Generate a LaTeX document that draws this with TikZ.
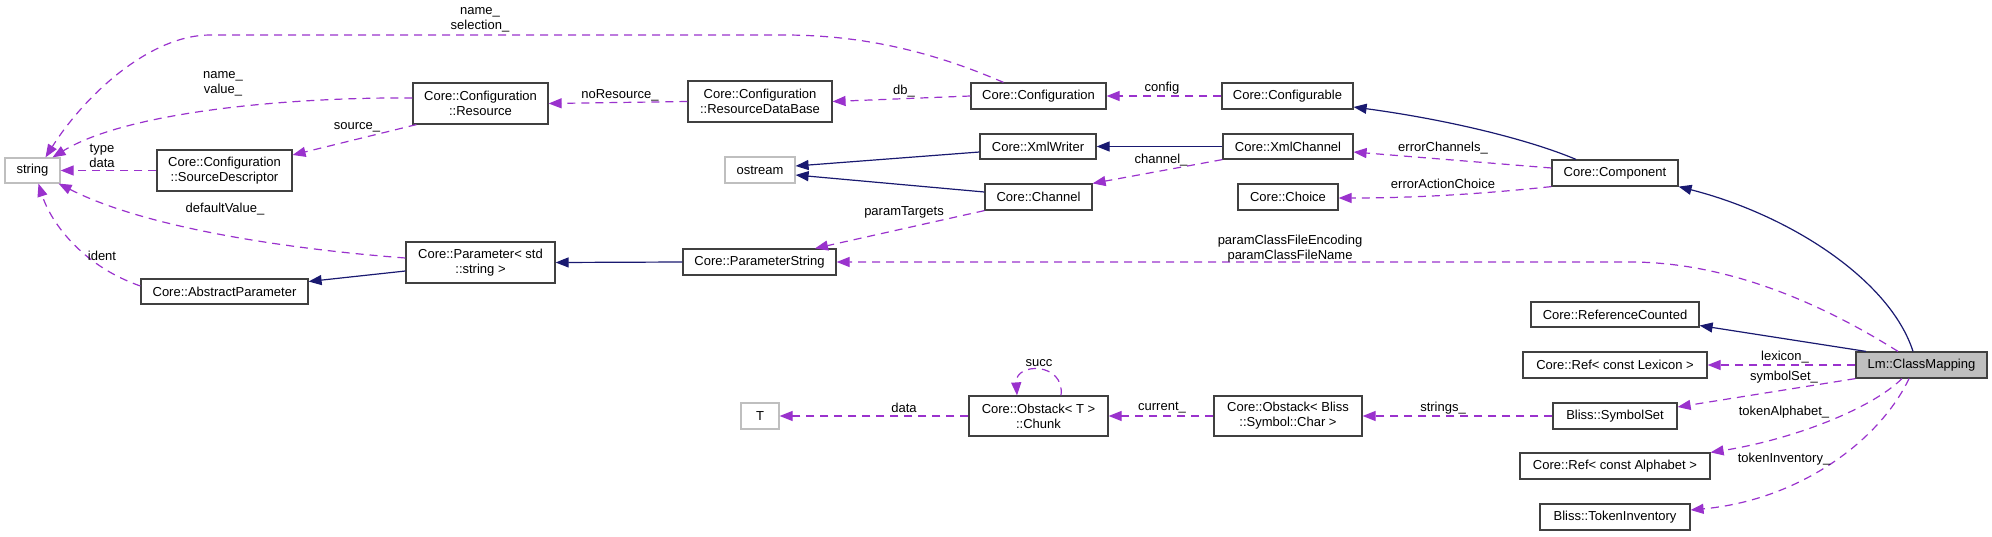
\documentclass[tikz,border=0pt]{standalone}
\usepackage{fontspec}
\setmainfont{Liberation Sans}
\usetikzlibrary{arrows.meta}
\definecolor{navy}{HTML}{191970}
\definecolor{purp}{HTML}{9A32CD}
\definecolor{bord}{HTML}{404040}
\definecolor{lgray}{HTML}{BFBFBF}
\begin{document}
\begin{tikzpicture}[x=1pt,y=-1pt,font=\fontsize{13}{15}\selectfont,
  box/.style={draw=bord,line width=1.2pt,fill=white,inner sep=0pt,align=center},
  extbox/.style={draw=lgray,line width=1.2pt,fill=white,inner sep=0pt,align=center},
  inh/.style={draw=navy,line width=1.2pt,-{Triangle[length=13pt,width=10pt]}},
  uses/.style={draw=purp,line width=1.2pt,dash pattern=on 8pt off 6pt,-{Triangle[length=13pt,width=10pt]}},
  lbl/.style={inner sep=0pt,align=center}]
\useasboundingbox (0,0) rectangle (1992,536);
% nodes
\node[extbox,minimum width=55pt,minimum height=25pt] (str) at (32.5,170.5) {string};
\node[box,minimum width=135pt,minimum height=41pt] (res) at (480.5,103.5) {Core::Configuration\\::Resource};
\node[box,minimum width=135pt,minimum height=41pt] (srcd) at (224.5,170.5) {Core::Configuration\\::SourceDescriptor};
\node[box,minimum width=149pt,minimum height=41pt] (par) at (480.5,262.5) {Core::Parameter< std\\::string >};
\node[box,minimum width=167pt,minimum height=25pt] (absp) at (224.5,291.5) {Core::AbstractParameter};
\node[box,minimum width=144pt,minimum height=41pt] (resdb) at (760,101.5) {Core::Configuration\\::ResourceDataBase};
\node[box,minimum width=135pt,minimum height=26pt] (conf) at (1038.5,96) {Core::Configuration};
\node[box,minimum width=131pt,minimum height=26pt] (cfgb) at (1287.5,96) {Core::Configurable};
\node[box,minimum width=116pt,minimum height=25pt] (xmlw) at (1038,146.5) {Core::XmlWriter};
\node[box,minimum width=130pt,minimum height=25pt] (xmlc) at (1288,146.5) {Core::XmlChannel};
\node[extbox,minimum width=70pt,minimum height=26pt] (ostr) at (760,170) {ostream};
\node[box,minimum width=107pt,minimum height=26pt] (chan) at (1038.5,197) {Core::Channel};
\node[box,minimum width=100pt,minimum height=26pt] (choice) at (1288,197) {Core::Choice};
\node[box,minimum width=153pt,minimum height=26pt] (pstr) at (759.5,262) {Core::ParameterString};
\node[box,minimum width=126pt,minimum height=26pt] (comp) at (1615,173) {Core::Component};
\node[box,minimum width=168pt,minimum height=25pt] (refc) at (1615,314.5) {Core::ReferenceCounted};
\node[box,minimum width=184pt,minimum height=26pt] (rlex) at (1615,365) {Core::Ref< const Lexicon >};
\node[box,fill=lgray,minimum width=131pt,minimum height=26pt] (cm) at (1921.5,365) {Lm::ClassMapping};
\node[box,minimum width=124pt,minimum height=26pt] (syms) at (1615,416) {Bliss::SymbolSet};
\node[box,minimum width=190pt,minimum height=26pt] (ralph) at (1615,466) {Core::Ref< const Alphabet >};
\node[box,minimum width=150pt,minimum height=26pt] (tinv) at (1615,517) {Bliss::TokenInventory};
\node[extbox,minimum width=38pt,minimum height=26pt] (T) at (760,416) {T};
\node[box,minimum width=139pt,minimum height=40pt] (chunk) at (1038.5,416) {Core::Obstack< T >\\::Chunk};
\node[box,minimum width=148pt,minimum height=40pt] (obst) at (1288,416) {Core::Obstack< Bliss\\::Symbol::Char >};
% edges
\draw[uses] ([xshift=-35pt]conf.north) .. controls (940,55) and (870,35) .. (784,35) -- (210,35) .. controls (150,35) and (85,95) .. ([xshift=13pt]str.north);
\draw[uses] ([yshift=5.5pt]res.west) .. controls (300,97) and (130,110) .. ([xshift=20pt]str.north);
\draw[uses] (srcd.west) -- (str.east);
\draw[uses] ([yshift=4.5pt]par.west) .. controls (300,250) and (150,230) .. ([xshift=-2pt]str.south east);
\draw[uses] ([yshift=5.5pt]absp.west) .. controls (80,265) and (50,220) .. ([xshift=6pt]str.south);
\draw[uses] ([xshift=4pt]res.south west) -- ([yshift=15.5pt]srcd.east);
\draw[uses] (resdb.west) -- (res.east);
\draw[uses] (conf.west) -- (resdb.east);
\draw[uses] (cfgb.west) -- (conf.east);
\draw[inh] (xmlc.west) -- (xmlw.east);
\draw[inh] ([yshift=-5.5pt]xmlw.west) -- ([yshift=4pt]ostr.east);
\draw[inh] ([yshift=5pt]chan.west) -- ([yshift=-5pt]ostr.east);
\draw[uses] (xmlc.south west) -- (chan.north east);
\draw[uses] (chan.south west) -- ([xshift=55.5pt]pstr.north);
\draw[inh] (pstr.west) -- (par.east);
\draw[inh] ([yshift=-8.5pt]par.west) -- ([yshift=10pt]absp.east);
\draw[inh] ([xshift=-39pt]comp.north) .. controls (1530,140) and (1450,120) .. ([yshift=-11pt]cfgb.east);
\draw[uses] ([yshift=5pt]comp.west) -- ([yshift=-5.5pt]xmlc.east);
\draw[uses] (comp.south west) .. controls (1500,192) and (1430,198) .. ([yshift=-1pt]choice.east);
\draw[inh] ([xshift=-8.5pt]cm.north) .. controls (1890,280) and (1790,215) .. (comp.south east);
\draw[uses] ([xshift=-23.5pt]cm.north) .. controls (1840,315) and (1740,262) .. (1630,262) -- (pstr.east);
\draw[inh] ([xshift=-55.5pt]cm.north) -- ([yshift=-11pt]refc.east);
\draw[uses] (cm.west) -- (rlex.east);
\draw[uses] (cm.south west) -- ([yshift=9pt]syms.east);
\draw[uses] ([xshift=-19.5pt]cm.south) .. controls (1870,410) and (1790,440) .. (ralph.north east);
\draw[uses] ([xshift=-12.5pt]cm.south) .. controls (1880,440) and (1800,500) .. ([yshift=7pt]tinv.east);
\draw[uses] (syms.west) -- (obst.east);
\draw[uses] (obst.west) -- (chunk.east);
\draw[uses] (chunk.west) -- (T.east);
\draw[uses] ([xshift=22.5pt]chunk.north) .. controls (1065,362) and (1015,362) .. ([xshift=-21.5pt]chunk.north);
% labels
\node[lbl] (l1) at (480,19.5) {name\_\\selection\_};
\node[lbl] (l2) at (223,83.5) {name\_\\value\_};
\node[lbl] (l3) at (357,127) {source\_};
\node[lbl] (l4) at (102,155.5) {type\\data};
\node[lbl] (l5) at (225,209) {defaultValue\_};
\node[lbl] (l6) at (102,256) {ident};
\node[lbl] (l7) at (620,95) {noResource\_};
\node[lbl] (l8) at (904,91) {db\_};
\node[lbl] (l9) at (1162,88) {config};
\node[lbl] (l10) at (1161,160) {channel\_};
\node[lbl] (l11) at (904,212) {paramTargets};
\node[lbl] (l12) at (1290,248.5) {paramClassFileEncoding\\paramClassFileName};
\node[lbl] (l13) at (1443,148) {errorChannels\_};
\node[lbl] (l14) at (1443,184) {errorActionChoice};
\node[lbl] (l15) at (1785,357) {lexicon\_};
\node[lbl] (l16) at (1784,377) {symbolSet\_};
\node[lbl] (l17) at (1784,412) {tokenAlphabet\_};
\node[lbl] (l18) at (1784,459) {tokenInventory\_};
\node[lbl] (l19) at (1443,408) {strings\_};
\node[lbl] (l20) at (1162,408) {current\_};
\node[lbl] (l21) at (904,408) {data};
\node[lbl] (l22) at (1039,363) {succ};
\end{tikzpicture}
\end{document}
